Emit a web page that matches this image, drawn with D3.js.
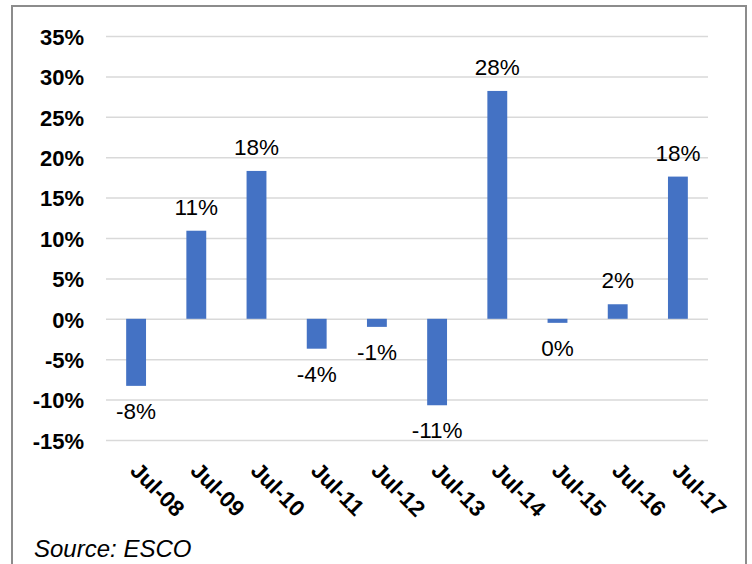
<!DOCTYPE html>
<html><head><meta charset="utf-8">
<script src="https://cdn.jsdelivr.net/npm/d3@7"></script>
<style>body{margin:0;background:#fff}svg{display:block}</style>
</head><body>
<script>
const categories = ["Jul-08","Jul-09","Jul-10","Jul-11","Jul-12","Jul-13","Jul-14","Jul-15","Jul-16","Jul-17"];
const values = [-8.3, 10.9, 18.3, -3.7, -1.0, -10.7, 28.2, -0.5, 1.8, 17.6];
const labels = ["-8%","11%","18%","-4%","-1%","-11%","28%","0%","2%","18%"];
const yTicks = [-15,-10,-5,0,5,10,15,20,25,30,35];
const source = "Source: ESCO";

const W = 752, H = 564;
const svg = d3.select("body").append("svg").attr("width", W).attr("height", H);

svg.append("rect").attr("x", 12).attr("y", 6).attr("width", 734).attr("height", 600)
  .attr("fill", "none").attr("stroke", "#8c8c8c").attr("stroke-width", 2);

const x = d3.scaleBand().domain(categories).range([106, 708]).paddingInner(0.67).paddingOuter(0.335);
const y = d3.scaleLinear().domain([-15, 35]).range([440, 36]);

const gy = svg.append("g").attr("transform", "translate(106,0)")
  .call(d3.axisLeft(y).tickValues(yTicks).tickSize(-602).tickFormat(d => d + "%").tickPadding(22));
gy.select(".domain").remove();
gy.selectAll(".tick line").attr("stroke", "#d9d9d9").attr("stroke-width", 1.5);
gy.selectAll(".tick text").attr("font-family", "Liberation Sans, Arial, sans-serif")
  .attr("font-size", 22).attr("font-weight", "bold").attr("fill", "#000").attr("dy", "0.38em");

svg.selectAll("rect.bar").data(values).join("rect").attr("class", "bar")
  .attr("x", (d, i) => x(categories[i]))
  .attr("width", x.bandwidth())
  .attr("y", d => y(Math.max(0, d)))
  .attr("height", d => Math.abs(y(d) - y(0)))
  .attr("fill", "#4472C4");

svg.selectAll("text.lbl").data(values).join("text").attr("class", "lbl")
  .attr("x", (d, i) => x(categories[i]) + x.bandwidth() / 2)
  .attr("y", d => d >= 0 ? y(d) - 16 : y(d) + 33)
  .attr("text-anchor", "middle")
  .attr("font-family", "Liberation Sans, Arial, sans-serif")
  .attr("font-size", 22.5).attr("fill", "#000")
  .text((d, i) => labels[i]);

const gx = svg.append("g").attr("transform", "translate(0,440)")
  .call(d3.axisBottom(x).tickSize(0).tickPadding(0));
gx.select(".domain").remove();
gx.selectAll(".tick text")
  .attr("font-family", "Liberation Sans, Arial, sans-serif")
  .attr("font-size", 22.5).attr("font-weight", "bold").attr("fill", "#000")
  .attr("text-anchor", "start").attr("dy", 0).attr("y", 0)
  .attr("transform", "translate(-7,32) rotate(45)");

svg.append("text").attr("x", 34).attr("y", 557)
  .attr("font-family", "Liberation Sans, Arial, sans-serif")
  .attr("font-size", 24).attr("font-style", "italic").attr("fill", "#000")
  .text(source);
</script>
</body></html>
